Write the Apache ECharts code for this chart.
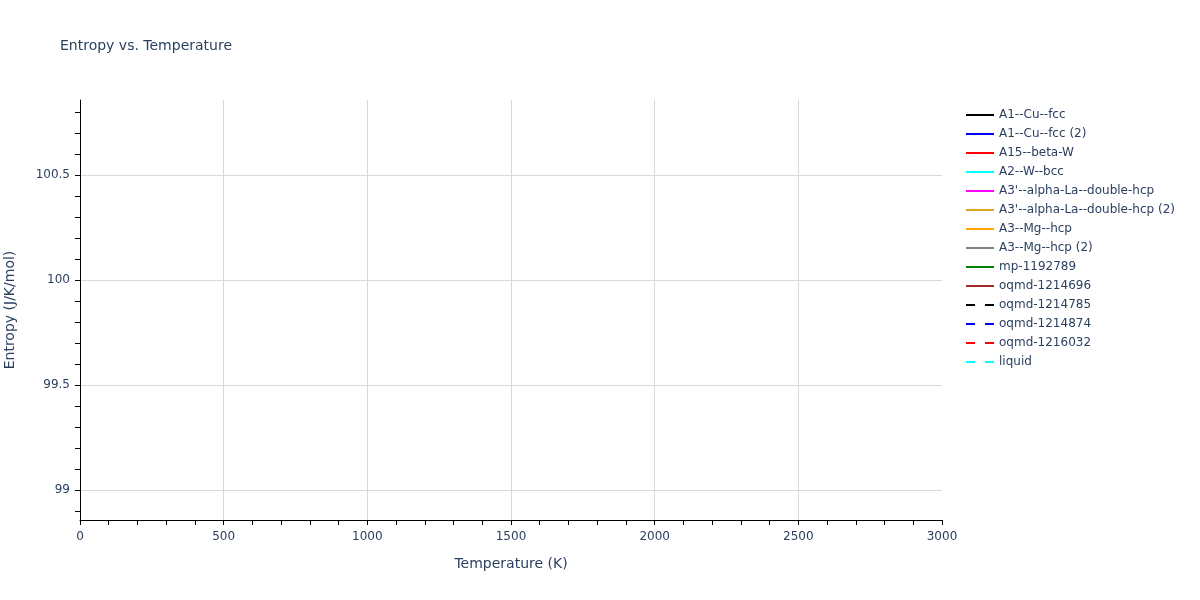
<!DOCTYPE html>
<html>
<head>
<meta charset="utf-8">
<script src="https://cdn.jsdelivr.net/npm/echarts@6/dist/echarts.min.js"></script>
<style>
  html, body { margin: 0; padding: 0; background: #fff; }
  #chart { width: 1200px; height: 600px; }
</style>
</head>
<body>
<div id="chart"></div>
<script>
// phases in the legend (no data points drawn in the reference)
const phaseNames = [
  'A1--Cu--fcc', 'A1--Cu--fcc (2)', 'A15--beta-W', 'A2--W--bcc',
  "A3'--alpha-La--double-hcp", "A3'--alpha-La--double-hcp (2)",
  'A3--Mg--hcp', 'A3--Mg--hcp (2)', 'mp-1192789', 'oqmd-1214696',
  'oqmd-1214785', 'oqmd-1214874', 'oqmd-1216032', 'liquid'
];
const phaseColors = [
  'black', 'blue', 'red', 'cyan', 'magenta', 'goldenrod',
  'orange', 'gray', 'green', 'brown', 'black', 'blue', 'red', 'cyan'
];
const phaseDashed = [
  false, false, false, false, false, false, false,
  false, false, false, true, true, true, true
];
const phaseTemps = [];   // empty
const phaseEntropy = []; // empty

const yTicks = [99, 99.5, 100, 100.5];
const yRange = [98.857, 100.857];
const xRange = [0, 3000];

const txt = '#2a3f5f';
const font = '"DejaVu Sans", Verdana, sans-serif';

const series = phaseNames.map((name, i) => ({
  name: name,
  type: 'line',
  symbol: 'none',
  data: phaseTemps.map((t, j) => [t, phaseEntropy[j]]),
  lineStyle: {
    color: phaseColors[i],
    width: 2,
    type: phaseDashed[i] ? [9, 10] : 'solid'
  },
  itemStyle: { color: phaseColors[i] }
}));

const legendItems = phaseNames.map((name, i) => ({
  name: name,
  itemStyle: { opacity: 0 },
  lineStyle: { color: phaseColors[i], width: 2, type: phaseDashed[i] ? [9, 10] : 'solid' }
}));

const chart = echarts.init(document.getElementById('chart'));
chart.setOption({
  animation: false,
  title: {
    text: 'Entropy vs. Temperature',
    left: 55, top: 34,
    textStyle: { fontFamily: font, fontSize: 14, fontWeight: 'normal', color: txt }
  },
  legend: {
    orient: 'vertical',
    left: 960, top: 104,
    itemWidth: 28, itemHeight: 14, itemGap: 7,
    itemStyle: { opacity: 0 },
    textStyle: { fontFamily: font, fontSize: 12, color: txt },
    data: legendItems
  },
  grid: { left: 80, right: 258, top: 100, bottom: 80, outerBoundsMode: 'none', containLabel: false },
  xAxis: {
    type: 'value',
    min: xRange[0], max: xRange[1], interval: 500,
    name: 'Temperature (K)',
    nameLocation: 'middle', nameGap: 37,
    nameTextStyle: { fontFamily: font, fontSize: 14, color: txt },
    axisLine: { show: true, lineStyle: { color: '#000', width: 1 } },
    axisTick: { show: true, length: 5, lineStyle: { color: '#000' } },
    minorTick: { show: true, splitNumber: 5, length: 5, lineStyle: { color: '#000' } },
    axisLabel: { fontFamily: font, fontSize: 12, color: txt, margin: 11, formatter: v => String(v) },
    splitLine: { show: true, showMinLine: false, showMaxLine: false, lineStyle: { color: '#d9d9d9', width: 1 } }
  },
  yAxis: {
    type: 'value',
    min: yRange[0], max: yRange[1], splitNumber: 4,
    name: 'Entropy (J/K/mol)',
    nameLocation: 'middle', nameGap: 63,
    nameTextStyle: { fontFamily: font, fontSize: 14, color: txt },
    axisLine: { show: true, lineStyle: { color: '#000', width: 1 } },
    axisTick: { show: true, length: 5, customValues: yTicks, lineStyle: { color: '#000' } },
    minorTick: { show: true, splitNumber: 5, length: 5, lineStyle: { color: '#000' } },
    axisLabel: { fontFamily: font, fontSize: 12, color: txt, margin: 10, customValues: yTicks, formatter: v => String(v) },
    splitLine: { show: true, showMinLine: true, showMaxLine: true, lineStyle: { color: '#d9d9d9', width: 1 } }
  },
  series: series
});
</script>
</body>
</html>
